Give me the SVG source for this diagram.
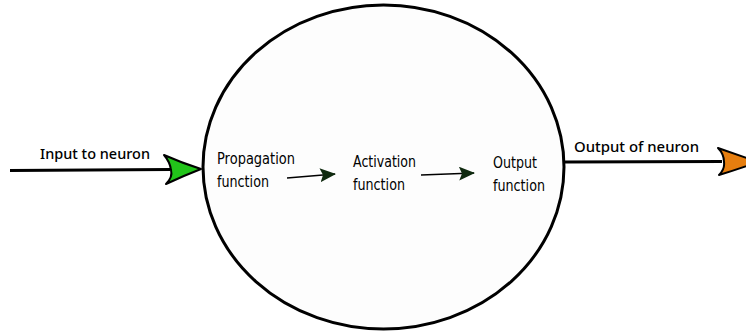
<svg xmlns="http://www.w3.org/2000/svg" width="746" height="331" viewBox="0 0 746 331">
  <defs>
    <style>
      .edge { stroke: #000; stroke-width: 3; fill: none; }
      .inner { stroke: #000; stroke-width: 1.6; fill: none; }
      .head { stroke: #000; stroke-width: 2; stroke-linejoin: round; }
      .lbl { font-family: "Noto Sans", "DejaVu Sans", sans-serif; font-size: 14px; font-weight: 500; fill: #000; }
      .fn { font-family: "DejaVu Sans", "Liberation Sans", sans-serif; font-size: 15.5px; fill: #000; }
    </style>
    <marker id="dark-head" viewBox="0 0 16 14" refX="15" refY="7" markerWidth="16" markerHeight="14" markerUnits="userSpaceOnUse" orient="auto">
      <path d="M0,0 L16,7 L0,14 L3,7 Z" fill="#0f2a0f"/>
    </marker>
  </defs>

  <!-- neuron body -->
  <g id="neuron">
    <ellipse cx="383.5" cy="167" rx="180.5" ry="162" fill="#fdfdfd" stroke="#000" stroke-width="3"/>
  </g>

  <g id="propagation">
    <text class="fn" x="217" y="164" textLength="78" lengthAdjust="spacingAndGlyphs">Propagation</text>
    <text class="fn" x="217" y="187" textLength="52" lengthAdjust="spacingAndGlyphs">function</text>
  </g>
  <g id="activation">
    <text class="fn" x="353" y="167" textLength="63" lengthAdjust="spacingAndGlyphs">Activation</text>
    <text class="fn" x="353" y="190" textLength="52" lengthAdjust="spacingAndGlyphs">function</text>
  </g>
  <g id="output">
    <text class="fn" x="493" y="168" textLength="44" lengthAdjust="spacingAndGlyphs">Output</text>
    <text class="fn" x="493" y="191" textLength="52" lengthAdjust="spacingAndGlyphs">function</text>
  </g>

  <g id="input-label">
    <text class="lbl" x="40" y="159" textLength="110" lengthAdjust="spacingAndGlyphs">Input to neuron</text>
  </g>
  <g id="output-label">
    <text class="lbl" x="574" y="152" textLength="125" lengthAdjust="spacingAndGlyphs">Output of neuron</text>
  </g>

  <!-- connectors -->
  <g id="connectors">
    <line class="edge" x1="10" y1="170.5" x2="170" y2="169.5"/>
    <path class="head" fill="#22c41a" d="M164,155 Q182,163 201,169 Q183,176 166,184 Q173,177 171,170 Q170,162 164,155 Z"/>

    <line class="edge" x1="565" y1="162" x2="722" y2="161.5"/>
    <path class="head" fill="#e67e0f" d="M718,148 Q738,155 758,162 Q739,169 719,175 Q725,169 724,162 Q724,154 718,148 Z"/>

    <line class="inner" x1="287" y1="178" x2="335" y2="174" marker-end="url(#dark-head)"/>
    <line class="inner" x1="421" y1="175" x2="474" y2="173" marker-end="url(#dark-head)"/>
  </g>
</svg>
